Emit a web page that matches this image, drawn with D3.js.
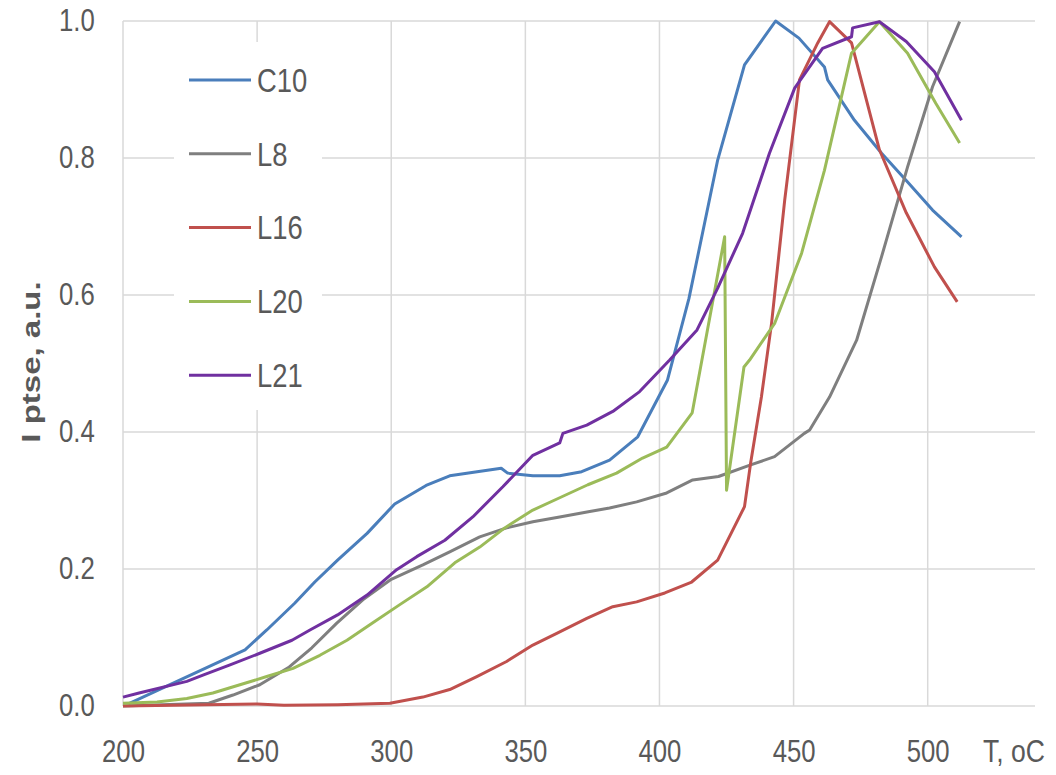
<!DOCTYPE html>
<html>
<head>
<meta charset="utf-8">
<script src="https://cdn.jsdelivr.net/npm/d3@7/dist/d3.min.js"></script>
<style>
  body { margin: 0; background: #fff; }
  text { font-family: "Liberation Sans", sans-serif; fill: #595959; }
</style>
</head>
<body>
<div id="chart"></div>
<script>
// series names, in legend order
const seriesNames = ["C10", "L8", "L16", "L20", "L21"];
const seriesColors = ["#4a7ebb", "#7f7f7f", "#c0504d", "#9bbb59", "#7030a0"];

// [T, I] pairs
const c10 = [[202,0.003],[245.5,0.082],[253.6,0.111],[264,0.150],[271.5,0.181],[280,0.213],[291,0.252],[301.3,0.295],
  [313,0.322],[321.8,0.336],[332,0.342],[341,0.347],[343.4,0.34],[352.8,0.336],[362.8,0.336],[371,0.342],[381.4,0.359],
  [391.9,0.393],[403,0.476],[411,0.595],[421.7,0.797],[431.7,0.936],[443.3,1.0],[452,0.975],[461.5,0.933],[462.7,0.914],
  [472.7,0.855],[482.8,0.807],[492.5,0.765],[501.8,0.724],[512.6,0.685]];
const l8 = [[200,0.0],[232,0.004],[241,0.016],[251,0.031],[262,0.057],[270.4,0.085],[279.7,0.121],[289.4,0.155],[300,0.185],
  [311.8,0.206],[321.8,0.225],[333,0.247],[343,0.26],[352.8,0.269],[362.8,0.276],[374,0.284],[381.4,0.289],[391.5,0.298],
  [402.7,0.311],[412.4,0.33],[422,0.335],[434,0.352],[442.9,0.364],[454,0.398],[456,0.403],[463.4,0.451],[473.5,0.534],
  [482.8,0.656],[492.5,0.787],[501.8,0.904],[511.9,0.999]];
const l16 = [[200,0.0],[250,0.003],[260,0.001],[280,0.002],[299.5,0.004],[311.8,0.013],[321.8,0.024],[331.9,0.043],[343,0.065],
  [352.8,0.089],[361.7,0.106],[372.9,0.128],[382.6,0.145],[391.5,0.152],[402,0.165],[412,0.181],[421.7,0.213],[431.7,0.291],
  [434,0.355],[438,0.451],[441.8,0.559],[446.7,0.739],[452.2,0.914],[459,0.968],[463.4,0.999],[471.6,0.968],[482,0.812],
  [492,0.72],[502.5,0.641],[511,0.59]];
const l20 = [[200,0.004],[212.7,0.006],[223.8,0.011],[233.5,0.019],[243.6,0.031],[253.6,0.043],[263.4,0.055],[273.4,0.074],
  [283.5,0.096],[293,0.121],[303.2,0.148],[313.3,0.174],[323.7,0.209],[333,0.232],[342.3,0.26],[352.8,0.286],[362.8,0.304],
  [373.3,0.323],[384,0.34],[393.7,0.362],[402.7,0.378],[412.2,0.428],[424.3,0.685],[425,0.315],[431.5,0.495],[433.6,0.505],
  [443,0.559],[453,0.661],[461.5,0.782],[471.6,0.953],[482,0.999],[492.5,0.953],[503,0.88],[511.9,0.822]];
const l21 = [[200,0.013],[206,0.019],[223.8,0.036],[229.8,0.045],[239.9,0.06],[251,0.077],[263,0.096],[269.7,0.111],[280,0.133],
  [291,0.162],[302,0.199],[309.5,0.218],[320,0.242],[330.4,0.276],[341.6,0.32],[352.8,0.366],[362.8,0.384],[364,0.398],
  [372.9,0.41],[382.6,0.43],[392.6,0.459],[403.8,0.505],[414,0.549],[421.7,0.61],[431,0.69],[441,0.807],[450.4,0.902],
  [460.8,0.96],[471.6,0.977],[472,0.99],[482,0.999],[492,0.97],[502.5,0.926],[512.6,0.855]];
const seriesData = [c10, l8, l16, l20, l21];

const xTicks = [200, 250, 300, 350, 400, 450, 500];
const yTicks = [0, 0.2, 0.4, 0.6, 0.8, 1.0];

const svgWidth = 1056;
const svgHeight = 775;
const margin = { top: 21, right: 21, bottom: 69, left: 123 };
const width = svgWidth - margin.left - margin.right;
const height = svgHeight - margin.top - margin.bottom;

// the reference text is horizontally squeezed
const squeeze = 0.83;

const svg = d3.select("#chart")
    .append("svg")
    .attr("width", svgWidth)
    .attr("height", svgHeight);

const chartGroup = svg.append("g")
    .attr("transform", `translate(${margin.left}, ${margin.top})`);

const xScale = d3.scaleLinear().domain([200, 540]).range([0, width]);
const yScale = d3.scaleLinear().domain([0, 1]).range([height, 0]);

// gridlines
chartGroup.append("g")
    .selectAll("line")
    .data(xTicks)
    .enter()
    .append("line")
    .attr("x1", d => xScale(d)).attr("x2", d => xScale(d))
    .attr("y1", 0).attr("y2", height)
    .attr("stroke", "#d9d9d9").attr("stroke-width", 1.5);

chartGroup.append("g")
    .selectAll("line")
    .data(yTicks)
    .enter()
    .append("line")
    .attr("x1", 0).attr("x2", width)
    .attr("y1", d => yScale(d)).attr("y2", d => yScale(d))
    .attr("stroke", "#d9d9d9").attr("stroke-width", 1.5);

// axes (labels only)
const xAxis = chartGroup.append("g")
    .attr("transform", `translate(0, ${height})`)
    .call(d3.axisBottom(xScale).tickValues(xTicks).tickSize(0).tickPadding(34).tickFormat(d3.format("d")));
const yAxis = chartGroup.append("g")
    .call(d3.axisLeft(yScale).tickValues(yTicks).tickSize(0).tickPadding(34).tickFormat(d3.format(".1f")));

[xAxis, yAxis].forEach(a => {
    a.select(".domain").remove();
    a.selectAll("text")
        .attr("font-size", 31)
        .attr("transform", `scale(${squeeze}, 1)`)
        .style("font-family", '"Liberation Sans", sans-serif')
        .attr("fill", "#595959");
});

// legend box hides the gridlines behind it
const legend = chartGroup.append("g")
    .attr("transform", "translate(51, 21)");
legend.append("rect")
    .attr("width", 148).attr("height", 368)
    .attr("fill", "#fff");

// lines
const line = d3.line()
    .x(d => xScale(d[0]))
    .y(d => yScale(d[1]));

chartGroup.selectAll("path.series")
    .data(seriesData)
    .enter()
    .append("path")
    .attr("class", "series")
    .attr("d", line)
    .attr("fill", "none")
    .attr("stroke", (d, i) => seriesColors[i])
    .attr("stroke-width", 3)
    .attr("stroke-linejoin", "round");

const legendItems = legend.selectAll("g.item")
    .data(seriesNames)
    .enter()
    .append("g")
    .attr("class", "item")
    .attr("transform", (d, i) => `translate(0, ${38 + i * 73.8})`);
legendItems.append("line")
    .attr("x1", 15).attr("x2", 77)
    .attr("stroke", (d, i) => seriesColors[i])
    .attr("stroke-width", 3);
legendItems.append("text")
    .attr("transform", `translate(83, 0) scale(${squeeze}, 1)`)
    .attr("dy", "0.36em")
    .attr("font-size", 33)
    .text(d => d);

// axis titles
svg.append("text")
    .attr("transform", "translate(40, 362) scale(0.8, 1) rotate(-90)")
    .attr("text-anchor", "middle")
    .attr("font-size", 33)
    .attr("font-weight", "bold")
    .text("I ptse, a.u.");

svg.append("text")
    .attr("transform", `translate(983, 762) scale(${squeeze}, 1)`)
    .attr("font-size", 32)
    .text("T, oC");
</script>
</body>
</html>
